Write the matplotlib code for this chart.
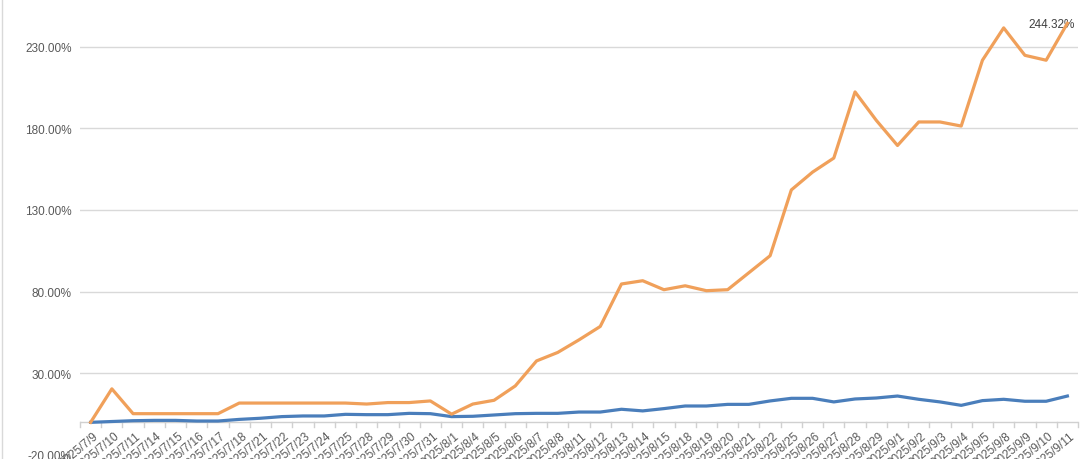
import matplotlib
matplotlib.use("Agg")
import matplotlib.pyplot as plt
from matplotlib.ticker import FuncFormatter, FixedLocator

plt.rcParams['font.family'] = ['Liberation Sans', 'DejaVu Sans']

# ---------------------------------------------------------------------------
# data (percent)
# ---------------------------------------------------------------------------
dates = [
    "7/9", "7/10", "7/11", "7/14", "7/15", "7/16", "7/17", "7/18",
    "7/21", "7/22", "7/23", "7/24", "7/25", "7/28", "7/29", "7/30", "7/31",
    "8/1", "8/4", "8/5", "8/6", "8/7", "8/8", "8/11", "8/12", "8/13",
    "8/14", "8/15", "8/18", "8/19", "8/20", "8/21", "8/22", "8/25", "8/26",
    "8/27", "8/28", "8/29", "9/1", "9/2", "9/3", "9/4", "9/5", "9/8",
    "9/9", "9/10", "9/11",
]
labels = ["2025/" + d for d in dates]

blue_vals = [
    0.0, 0.5, 1.0, 1.2, 1.2, 0.8, 0.8, 1.8, 2.5, 3.5, 3.9, 3.9, 4.9, 4.7,
    4.7, 5.5, 5.3, 3.5, 3.7, 4.5, 5.3, 5.5, 5.5, 6.3, 6.3, 8.0, 7.0, 8.4,
    10.0, 10.0, 11.0, 11.0, 13.1, 14.7, 14.7, 12.5, 14.3, 14.9, 16.1, 14.1,
    12.5, 10.4, 13.3, 14.1, 12.9, 12.9, 16.1,
]
orange_vals = [
    0.0, 20.5, 5.3, 5.3, 5.3, 5.3, 5.3, 11.8, 11.8, 11.8, 11.8, 11.8, 11.8,
    11.2, 12.1, 12.1, 13.1, 5.0, 11.2, 13.5, 22.3, 37.6, 42.8, 50.5, 58.7,
    84.7, 86.7, 81.2, 83.6, 80.6, 81.2, 91.6, 102.0, 142.3, 153.2, 161.8,
    202.3, 184.9, 169.5, 183.9, 183.9, 181.4, 221.7, 241.5, 224.7, 221.7,
    244.32,
]
y_ticks = [-20, 30, 80, 130, 180, 230]

# ---------------------------------------------------------------------------
# figure
# ---------------------------------------------------------------------------
fig = plt.figure(figsize=(10.8, 4.6), dpi=100, facecolor="white")
ax = fig.add_axes([80 / 1080, 4 / 460, 998 / 1080, 441 / 460])

x = list(range(len(labels)))
ax.plot(x, blue_vals, color="#4a7ebb", linewidth=2.3, solid_joinstyle="round", zorder=3)
ax.plot(x, orange_vals, color="#f0a05a", linewidth=2.3, solid_joinstyle="round", zorder=4)

# last value label
ax.annotate(f"{orange_vals[-1]:.2f}%", (x[-1], orange_vals[-1]),
            xytext=(7, -1), textcoords="offset pixels",
            ha="right", va="center", fontsize=8.5, color="#404040")

ax.set_xlim(-0.5, len(labels) - 0.5)
ax.set_ylim(-20, 250)

# y axis
ax.yaxis.set_major_locator(FixedLocator(y_ticks))
ax.yaxis.set_major_formatter(FuncFormatter(lambda v, p: f"{v:.2f}%"))
ax.tick_params(axis="y", length=0, pad=6, labelsize=8.5, labelcolor="#595959")
for t in y_ticks:
    if t != -20:
        ax.axhline(t, color="#d9d9d9", linewidth=1, zorder=1)

# x axis at 0 with labels under it
for s in ["top", "right", "left", "bottom"]:
    ax.spines[s].set_visible(False)
ax.axhline(0, color="#d0d0d0", linewidth=1, zorder=2)

ax.set_xticks(x)
ax.set_xticklabels([])
ax.tick_params(axis="x", length=0)
for xi, lab in zip(x, labels):
    ax.text(xi + 0.1, -4.5, lab, rotation=40, rotation_mode="anchor",
            ha="right", va="top", fontsize=8.5, color="#595959", clip_on=False)
# tick marks between categories
for b in [i - 0.5 for i in range(len(labels) + 1)]:
    ax.plot([b, b], [0, -2.6], color="#d0d0d0", linewidth=1, zorder=2, clip_on=False)

# chart border on the left
fig.add_artist(plt.Line2D([2 / 1080, 2 / 1080], [0, 1], color="#d9d9d9", linewidth=1))

fig.savefig("out.png", dpi=100, facecolor="white")
